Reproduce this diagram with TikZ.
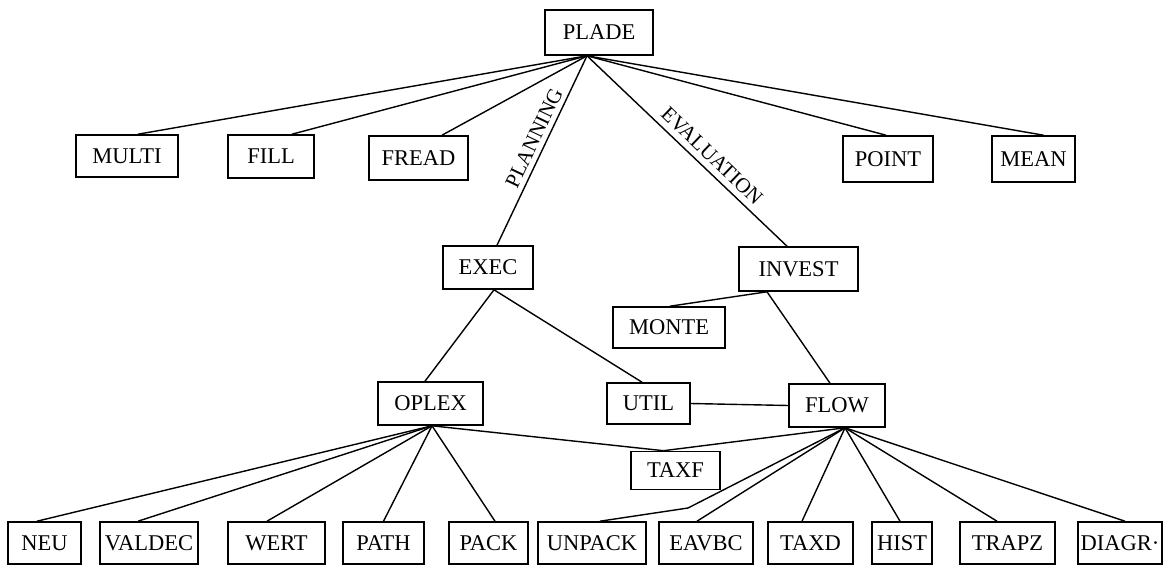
\documentclass[tikz,border=0pt]{standalone}
\usepackage{fontspec}
\setmainfont{Liberation Serif}
\begin{document}
\begin{tikzpicture}[x=1pt,y=-1pt,
  box/.style={draw, line width=1.6pt, inner sep=0pt, font=\fontsize{22.5}{26}\selectfont},
  conn/.style={line width=1.4pt},
  lbl/.style={font=\fontsize{21}{25}\selectfont, inner sep=0pt}]
\useasboundingbox (0,0) rectangle (1172,567);
% top
\node[box, minimum width=108pt, minimum height=45pt] (PLADE) at (599,32.5) {PLADE};
\node[box, minimum width=102pt, minimum height=42pt] (MULTI) at (127,156) {MULTI};
\node[box, minimum width=86pt, minimum height=43pt] (FILL) at (271,156.5) {FILL};
\node[box, minimum width=99pt, minimum height=44pt] (FREAD) at (418.5,158) {FREAD};
\node[box, minimum width=90pt, minimum height=46pt] (POINT) at (888,159) {POINT};
\node[box, minimum width=83pt, minimum height=46pt] (MEAN) at (1033.5,159) {MEAN};
% middle
\node[box, minimum width=90pt, minimum height=43pt] (EXEC) at (488,267.5) {EXEC};
\node[box, minimum width=119pt, minimum height=44pt] (INVEST) at (798.5,269) {INVEST};
\node[box, minimum width=112pt, minimum height=41pt] (MONTE) at (669,327.5) {MONTE};
\node[box, minimum width=105pt, minimum height=43pt] (OPLEX) at (430.5,403.5) {OPLEX};
\node[box, minimum width=83pt, minimum height=41pt] (UTIL) at (648.5,403.5) {UTIL};
\node[box, minimum width=96pt, minimum height=43pt] (FLOW) at (837,405.5) {FLOW};
\node[box, minimum width=89pt, minimum height=38pt] (TAXF) at (675.5,470.5) {TAXF};
% bottom
\node[box, minimum width=73pt, minimum height=42pt] (NEU) at (44.5,543) {NEU};
\node[box, minimum width=98pt, minimum height=42pt] (VALDEC) at (149,543) {VALDEC};
\node[box, minimum width=97pt, minimum height=42pt] (WERT) at (276.5,543) {WERT};
\node[box, minimum width=81pt, minimum height=42pt] (PATH) at (383.5,543) {PATH};
\node[box, minimum width=79pt, minimum height=42pt] (PACK) at (488.5,543) {PACK};
\node[box, minimum width=108pt, minimum height=42pt] (UNPACK) at (592,543) {UNPACK};
\node[box, minimum width=94pt, minimum height=42pt] (EAVBC) at (706,543) {EAVBC};
\node[box, minimum width=85pt, minimum height=42pt] (TAXD) at (810.5,543) {TAXD};
\node[box, minimum width=60pt, minimum height=42pt] (HIST) at (902,543) {HIST};
\node[box, minimum width=95pt, minimum height=42pt] (TRAPZ) at (1007.5,543) {TRAPZ};
\node[box, minimum width=84pt, minimum height=42pt] (DIAGR) at (1120,543) {DIAGR·};
% junction points
\coordinate (pj) at ([xshift=-12pt]PLADE.south);
\coordinate (ej) at ([xshift=6pt]EXEC.south);
\coordinate (ij) at ([xshift=-31.5pt]INVEST.south);
\coordinate (oj) at ([xshift=1.5pt]OPLEX.south);
\coordinate (fj) at ([xshift=8pt]FLOW.south);
\coordinate (tj) at ([xshift=-12pt]TAXF.north);
\coordinate (uk) at (688,508);
% PLADE
\draw[conn] (pj) -- ([xshift=11pt]MULTI.north);
\draw[conn] (pj) -- ([xshift=21pt]FILL.north);
\draw[conn] (pj) -- ([xshift=23.5pt]FREAD.north);
\draw[conn] (pj) -- ([xshift=9pt]EXEC.north);
\draw[conn] (pj) -- ([xshift=-11.5pt]INVEST.north);
\draw[conn] (pj) -- ([xshift=-2pt]POINT.north);
\draw[conn] (pj) -- ([xshift=10pt]MEAN.north);
\node[lbl, rotate=64.5] (plan) at (534,138) {PLANNING};
\node[lbl, rotate=-43.8] (eval) at (712,156) {EVALUATION};
% EXEC
\draw[conn] (ej) -- ([xshift=-5.5pt]OPLEX.north);
\draw[conn] (ej) -- ([xshift=-6.5pt]UTIL.north);
% INVEST
\draw[conn] (ij) -- ([xshift=1pt]MONTE.north);
\draw[conn] (ij) -- ([xshift=-7pt]FLOW.north);
% UTIL-FLOW
\draw[conn] (UTIL.east) -- (FLOW.west);
% OPLEX
\draw[conn] (oj) -- ([xshift=-7.5pt]NEU.north);
\draw[conn] (oj) -- ([xshift=-11pt]VALDEC.north);
\draw[conn] (oj) -- ([xshift=-9.5pt]WERT.north);
\draw[conn] (oj) -- (PATH.north);
\draw[conn] (oj) -- ([xshift=6.5pt]PACK.north);
\draw[conn] (oj) -- (tj);
% FLOW
\draw[conn] (fj) -- (tj);
\draw[conn] (fj) -- (uk) -- ([xshift=8pt]UNPACK.north);
\draw[conn] (fj) -- ([xshift=-9pt]EAVBC.north);
\draw[conn] (fj) -- ([xshift=-8.5pt]TAXD.north);
\draw[conn] (fj) -- ([xshift=-2pt]HIST.north);
\draw[conn] (fj) -- ([xshift=-10.5pt]TRAPZ.north);
\draw[conn] (fj) -- ([xshift=5pt]DIAGR.north);
\end{tikzpicture}
\end{document}
